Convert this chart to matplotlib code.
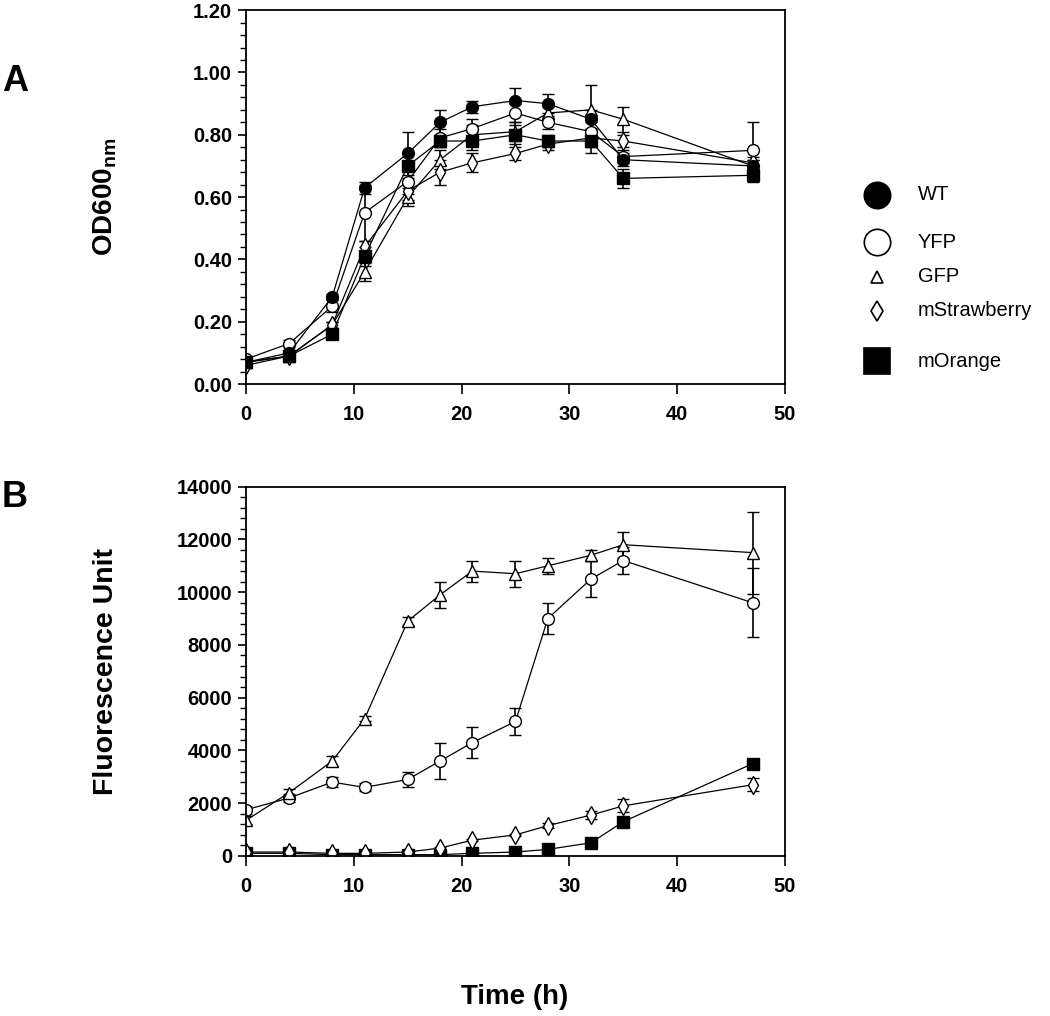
import numpy as np
import matplotlib
matplotlib.use("Agg")
import matplotlib.pyplot as plt
from matplotlib.ticker import MultipleLocator, FormatStrFormatter

plt.rcParams['font.family'] = ['Liberation Sans', 'DejaVu Sans']

# Sampling times (h)
time = [0, 4, 8, 11, 15, 18, 21, 25, 28, 32, 35, 47]

# Panel A: OD600
od_wt = [0.07, 0.10, 0.28, 0.63, 0.74, 0.84, 0.89, 0.91, 0.90, 0.85, 0.72, 0.70]
od_yfp = [0.08, 0.13, 0.25, 0.55, 0.65, 0.79, 0.82, 0.87, 0.84, 0.81, 0.73, 0.75]
od_gfp = [0.07, 0.09, 0.19, 0.36, 0.60, 0.72, 0.80, 0.81, 0.87, 0.88, 0.85, 0.70]
od_mstr = [0.06, 0.09, 0.19, 0.44, 0.62, 0.68, 0.71, 0.74, 0.77, 0.79, 0.78, 0.71]
od_mor = [0.07, 0.09, 0.16, 0.41, 0.70, 0.78, 0.78, 0.80, 0.78, 0.78, 0.66, 0.67]

od_wt_err = [0.01, 0.01, 0.01, 0.02, 0.07, 0.04, 0.02, 0.04, 0.03, 0.03, 0.02, 0.02]
od_yfp_err = [0.01, 0.01, 0.02, 0.09, 0.04, 0.03, 0.03, 0.03, 0.02, 0.03, 0.02, 0.09]
od_gfp_err = [0.01, 0.01, 0.01, 0.03, 0.03, 0.03, 0.03, 0.03, 0.02, 0.08, 0.04, 0.02]
od_mstr_err = [0.01, 0.01, 0.01, 0.02, 0.03, 0.04, 0.03, 0.02, 0.02, 0.03, 0.02, 0.02]
od_mor_err = [0.01, 0.01, 0.01, 0.03, 0.04, 0.02, 0.03, 0.03, 0.02, 0.04, 0.03, 0.02]

# Panel B: fluorescence
fl_yfp = [1750, 2200, 2800, 2600, 2900, 3600, 4300, 5100, 9000, 10500, 11200, 9600]
fl_gfp = [1350, 2400, 3600, 5200, 8900, 9900, 10800, 10700, 11000, 11400, 11800, 11500]
fl_mstr = [150, 150, 100, 100, 150, 300, 600, 800, 1150, 1550, 1900, 2700]
fl_mor = [100, 100, 50, 50, 50, 50, 100, 150, 250, 500, 1300, 3500]

fl_yfp_err = [150, 150, 200, 150, 300, 700, 600, 500, 600, 700, 500, 1300]
fl_gfp_err = [150, 150, 200, 100, 150, 500, 400, 500, 300, 200, 500, 1550]
fl_mstr_err = [50, 50, 50, 50, 50, 50, 50, 50, 100, 150, 250, 250]
fl_mor_err = [20, 20, 20, 20, 20, 20, 20, 30, 50, 80, 150, 150]

labels = ['WT', 'YFP', 'GFP', 'mStrawberry', 'mOrange']

styles = {
    'WT': dict(marker='o', mfc='black', ms=8.5),
    'YFP': dict(marker='o', mfc='white', ms=8.5),
    'GFP': dict(marker='^', mfc='white', ms=8),
    'mStrawberry': dict(marker='d', mfc='white', ms=9),
    'mOrange': dict(marker='s', mfc='black', ms=8),
}

fig = plt.figure(figsize=(10.5, 10.16), dpi=100)
axA = fig.add_axes([0.2343, 0.622, 0.5133, 0.368])
axB = fig.add_axes([0.2343, 0.1575, 0.5133, 0.3635])


def draw(ax, y, err, name):
    st = styles[name]
    ax.errorbar(time, y, yerr=err, color='black', lw=0.9, elinewidth=1.2,
                capsize=4.5, capthick=1.2, marker=st['marker'], ms=st['ms'],
                mfc=st['mfc'], mec='black', mew=1.0)


draw(axA, od_gfp, od_gfp_err, 'GFP')
draw(axA, od_mstr, od_mstr_err, 'mStrawberry')
draw(axA, od_yfp, od_yfp_err, 'YFP')
draw(axA, od_mor, od_mor_err, 'mOrange')
draw(axA, od_wt, od_wt_err, 'WT')

draw(axB, fl_mor, fl_mor_err, 'mOrange')
draw(axB, fl_mstr, fl_mstr_err, 'mStrawberry')
draw(axB, fl_yfp, fl_yfp_err, 'YFP')
draw(axB, fl_gfp, fl_gfp_err, 'GFP')

tickfont = dict(family=['Liberation Sans Narrow', 'Liberation Sans'], weight='bold', size=14.5)

axA.set_ylim(0, 1.2)
axA.yaxis.set_major_locator(MultipleLocator(0.2))
axA.yaxis.set_minor_locator(MultipleLocator(0.04))
axA.yaxis.set_major_formatter(FormatStrFormatter('%.2f'))
axB.set_ylim(0, 14000)
axB.yaxis.set_major_locator(MultipleLocator(2000))
axB.yaxis.set_minor_locator(MultipleLocator(400))

for ax in (axA, axB):
    ax.set_xlim(0, 50)
    ax.xaxis.set_major_locator(MultipleLocator(10))
    ax.tick_params(axis='x', which='major', direction='out', length=7, width=1.2,
                   pad=8, top=False)
    ax.tick_params(axis='y', which='major', direction='out', length=6, width=1.2,
                   right=False, pad=4)
    ax.tick_params(axis='y', which='minor', direction='out', length=4, width=1.0,
                   right=False)
    for s in ax.spines.values():
        s.set_linewidth(1.3)
    for lbl in ax.get_xticklabels() + ax.get_yticklabels():
        lbl.set_fontproperties(tickfont)

axA.set_ylabel('OD600$_{\\mathregular{nm}}$', fontsize=20, fontweight='bold')
axB.set_ylabel('Fluorescence Unit', fontsize=20.5, fontweight='bold')
axA.yaxis.set_label_coords(-0.235, 0.5)
axB.yaxis.set_label_coords(-0.235, 0.5)

fig.text(0.49, 0.006, 'Time (h)', fontsize=20, fontweight='bold', ha='center', va='bottom')
fig.text(0.002, 0.92, 'A', fontsize=26, fontweight='bold', ha='left', va='center')
fig.text(0.002, 0.51, 'B', fontsize=26, fontweight='bold', ha='left', va='center')

# legend drawn on its own axes
leg = fig.add_axes([0.79, 0.59, 0.21, 0.26])
leg.set_xlim(0, 1)
leg.set_ylim(0, 1)
leg.axis('off')
leg_y = [0.84, 0.66, 0.53, 0.40, 0.21]
leg_ms = {'WT': 19, 'YFP': 19, 'GFP': 8, 'mStrawberry': 10, 'mOrange': 19}
for name, yy in zip(labels, leg_y):
    st = styles[name]
    leg.plot([0.215], [yy], linestyle='none', marker=st['marker'], ms=leg_ms[name],
             mfc=st['mfc'], mec='black', mew=1.2)
    leg.text(0.40, yy, name, fontsize=14.5, va='center', ha='left')

fig.savefig('out.png', dpi=100)
